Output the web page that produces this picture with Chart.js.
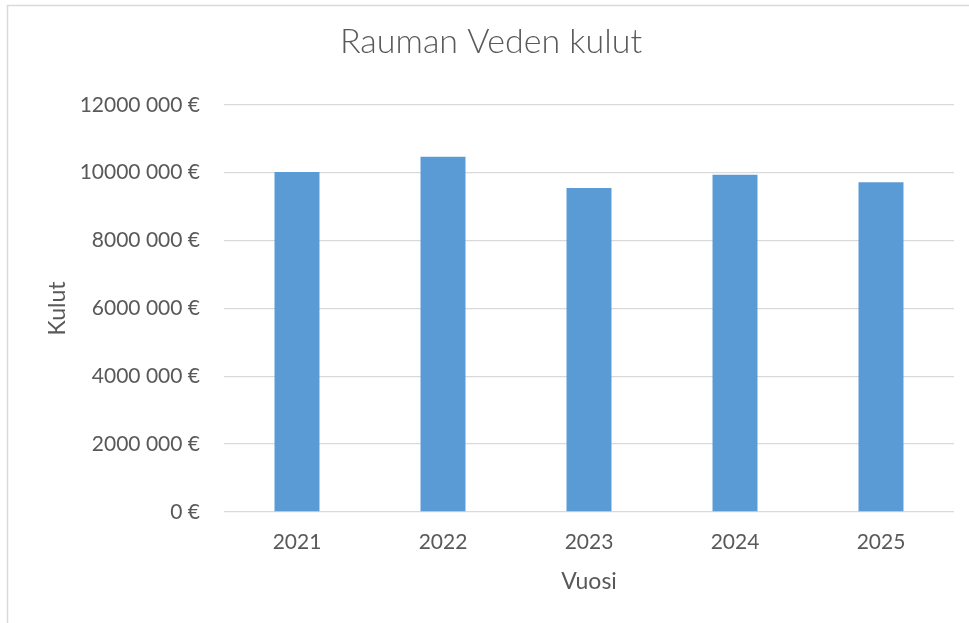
<!DOCTYPE html>
<html>
<head>
<meta charset="utf-8">
<script src="https://cdn.jsdelivr.net/npm/chart.js@4/dist/chart.umd.min.js"></script>
<style>
html,body{margin:0;padding:0;background:#fff;}
canvas{display:block;}
</style>
</head>
<body>
<canvas id="c" width="969" height="623"></canvas>
<script>
const years = ['2021', '2022', '2023', '2024', '2025'];
const costs = [10020000, 10470000, 9550000, 9940000, 9720000];
const yTickValues = [0, 2000000, 4000000, 6000000, 8000000, 10000000, 12000000];
const yTickLabels = ['0 €', '2000 000 €', '4000 000 €', '6000 000 €', '8000 000 €', '10000 000 €', '12000 000 €'];
const chartTitle = 'Rauman Veden kulut';
const xTitle = 'Vuosi';
const yTitle = 'Kulut';

const FONT = 'Lato, "Open Sans", sans-serif';
const TXT = '#595959';

const frame = {
  id: 'frame',
  beforeDraw(chart) {
    const ctx = chart.ctx;
    ctx.save();
    ctx.fillStyle = '#ffffff';
    ctx.fillRect(0, 0, chart.width, chart.height);
    ctx.strokeStyle = '#d9d9d9';
    ctx.lineWidth = 1.5;
    ctx.beginPath();
    ctx.moveTo(7.5, chart.height + 5);
    ctx.lineTo(7.5, 5.5);
    ctx.lineTo(chart.width + 5, 5.5);
    ctx.stroke();
    ctx.restore();
  }
};

new Chart(document.getElementById('c'), {
  type: 'bar',
  data: {
    labels: years,
    datasets: [{
      data: costs,
      backgroundColor: '#5b9bd5',
      borderWidth: 0,
      categoryPercentage: 1,
      barPercentage: 0.308
    }]
  },
  options: {
    responsive: false,
    animation: false,
    layout: { padding: { left: 28, right: 15, top: 0, bottom: 0 } },
    plugins: {
      legend: { display: false },
      tooltip: { enabled: false },
      title: {
        display: true,
        text: chartTitle,
        color: TXT,
        font: { family: FONT, size: 34, weight: '300' },
        padding: { top: 22, bottom: 42 }
      }
    },
    scales: {
      x: {
        grid: { display: false, drawTicks: false },
        border: { display: false },
        ticks: { color: TXT, font: { family: FONT, size: 21 }, padding: 18 },
        title: { display: true, text: xTitle, color: TXT, font: { family: FONT, size: 23 }, padding: { top: 0, bottom: 28 } },
        afterFit(s) { s.height = 111; }
      },
      y: {
        min: 0,
        max: 12000000,
        afterBuildTicks(s) { s.ticks = yTickValues.map(v => ({ value: v })); },
        grid: { color: '#d9d9d9', lineWidth: 1.3, drawTicks: false },
        border: { display: false },
        ticks: {
          color: TXT,
          font: { family: FONT, size: 21 },
          padding: 24,
          callback(v) { const i = yTickValues.indexOf(v); return i >= 0 ? yTickLabels[i] : ''; }
        },
        title: { display: true, text: yTitle, color: TXT, font: { family: FONT, size: 23 }, padding: { top: 16, bottom: 0 } },
        afterFit(s) { s.width = 196; }
      }
    }
  },
  plugins: [frame]
});
</script>
</body>
</html>
